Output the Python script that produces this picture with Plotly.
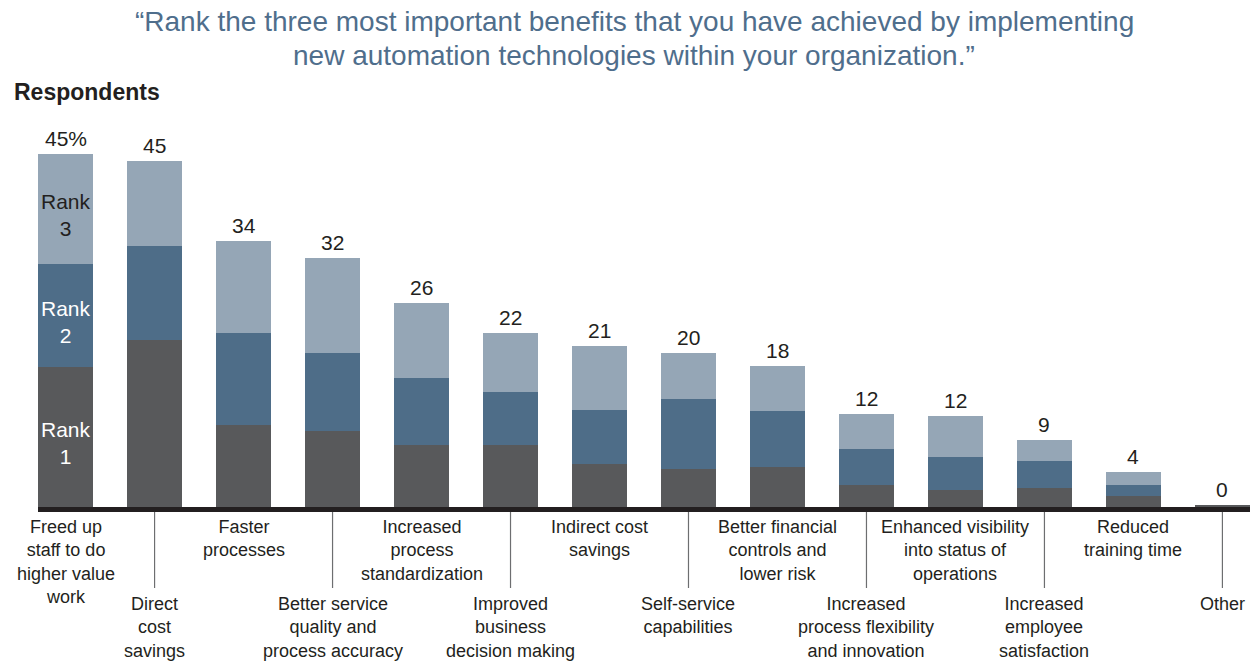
import plotly.graph_objects as go

categories = [
    "Freed up staff to do higher value work",
    "Direct cost savings",
    "Faster processes",
    "Better service quality and process accuracy",
    "Increased process standardization",
    "Improved business decision making",
    "Indirect cost savings",
    "Self-service capabilities",
    "Better financial controls and lower risk",
    "Increased process flexibility and innovation",
    "Enhanced visibility into status of operations",
    "Increased employee satisfaction",
    "Reduced training time",
    "Other",
]
tick_labels = [
    "Freed up<br>staff to do<br>higher value<br>work",
    "Direct<br>cost<br>savings",
    "Faster<br>processes",
    "Better service<br>quality and<br>process accuracy",
    "Increased<br>process<br>standardization",
    "Improved<br>business<br>decision making",
    "Indirect cost<br>savings",
    "Self-service<br>capabilities",
    "Better financial<br>controls and<br>lower risk",
    "Increased<br>process flexibility<br>and innovation",
    "Enhanced visibility<br>into status of<br>operations",
    "Increased<br>employee<br>satisfaction",
    "Reduced<br>training time",
    "Other",
]
rank1 = [17.9, 21.4, 10.5, 9.7, 7.9, 7.9, 5.5, 4.9, 5.1, 2.8, 2.2, 2.4, 1.4, 0.3]
rank2 = [13.2, 12.1, 11.8, 10.1, 8.6, 6.8, 6.9, 9.0, 7.2, 4.7, 4.2, 3.5, 1.4, 0.0]
rank3 = [14.1, 10.9, 11.8, 12.1, 9.7, 7.6, 8.2, 5.9, 5.8, 4.4, 5.3, 2.7, 1.7, 0.0]
total_labels = ["45%", "45", "34", "32", "26", "22", "21", "20", "18", "12", "12", "9", "4", "0"]
title_lines = [
    "\u201cRank the three most important benefits that you have achieved by implementing",
    "new automation technologies within your organization.\u201d",
]

FONT = "Liberation Sans, Arial, sans-serif"
TXT = "#231f20"
C1, C2, C3 = "#58595b", "#4e6d88", "#95a6b6"

W, H = 1260, 662
X0_PX, X1_PX = 38, 1250
TOP_PX, BASE_PX = 100, 507
PLOT_H = BASE_PX - TOP_PX
PX_PER_UNIT = 7.8
YMAX = PLOT_H / PX_PER_UNIT
BW = 0.62


def py(px):
    # paper coordinate for a pixel row measured from the top of the figure
    return (H - px) / H


fig = go.Figure()
for name, vals, col in [("Rank 1", rank1, C1), ("Rank 2", rank2, C2), ("Rank 3", rank3, C3)]:
    fig.add_trace(go.Bar(x=categories, y=vals, name=name, marker=dict(color=col, line=dict(width=0)),
                         width=BW, hoverinfo="skip"))

annotations = []
totals = [a + b + c for a, b, c in zip(rank1, rank2, rank3)]
for cat, t, lab in zip(categories, totals, total_labels):
    annotations.append(dict(x=cat, y=t, xref="x", yref="y", text=lab, showarrow=False,
                            yanchor="bottom", yshift=2, font=dict(family=FONT, size=21, color=TXT)))

# Rank labels inside the first bar
c0 = categories[0]
for ymid, lab, col in [(rank1[0] / 2, "Rank<br>1", "white"),
                       (rank1[0] + rank2[0] / 2, "Rank<br>2", "white"),
                       (rank1[0] + rank2[0] + rank3[0] / 2, "Rank<br>3", TXT)]:
    annotations.append(dict(x=c0, y=ymid, xref="x", yref="y", text=lab, showarrow=False,
                            yshift=-6, font=dict(family=FONT, size=21, color=col)))

shapes = []
# thick baseline
shapes.append(dict(type="rect", xref="x", yref="paper", x0=-BW / 2, x1=len(categories) - 1 + BW / 2,
                   y0=py(512), y1=py(507), fillcolor="#231f20", line=dict(width=0), layer="above"))

for i, (cat, lab) in enumerate(zip(categories, tick_labels)):
    if i % 2 == 0:
        annotations.append(dict(x=cat, y=py(515), xref="x", yref="paper", text=lab, showarrow=False,
                                yanchor="top", font=dict(family=FONT, size=18, color=TXT)))
    else:
        annotations.append(dict(x=cat, y=py(592), xref="x", yref="paper", text=lab, showarrow=False,
                                yanchor="top", font=dict(family=FONT, size=18, color=TXT)))
        shapes.append(dict(type="line", xref="x", yref="paper", x0=cat, x1=cat,
                           y0=py(512), y1=py(588), line=dict(color="#6d6e70", width=1.2)))

# Title (two separately placed lines for tighter leading)
for k, line in enumerate(title_lines):
    annotations.append(dict(x=634 / W, y=py(22 + 33 * k), xref="paper", yref="paper", showarrow=False,
                            text=line, xanchor="center", yanchor="middle",
                            font=dict(family=FONT, size=28, color="#4f6e8c")))

annotations.append(dict(x=12 / W, y=py(92), xref="paper", yref="paper", showarrow=False,
                        text="<b>Respondents</b>", xanchor="left", yanchor="middle",
                        font=dict(family=FONT, size=23, color=TXT)))

fig.update_layout(
    width=W, height=H,
    margin=dict(l=0, r=0, t=0, b=0),
    paper_bgcolor="white", plot_bgcolor="white",
    barmode="stack", showlegend=False, bargap=0,
    xaxis=dict(domain=[X0_PX / W, X1_PX / W], range=[-BW / 2, len(categories) - 1 + BW / 2],
               showticklabels=False, showgrid=False, zeroline=False, showline=False, ticks="",
               fixedrange=True),
    yaxis=dict(domain=[(H - BASE_PX) / H, (H - TOP_PX) / H], range=[0, YMAX],
               showticklabels=False, showgrid=False, zeroline=False, showline=False, ticks="",
               fixedrange=True),
    annotations=annotations,
    shapes=shapes,
)

fig.write_html("out.html")
